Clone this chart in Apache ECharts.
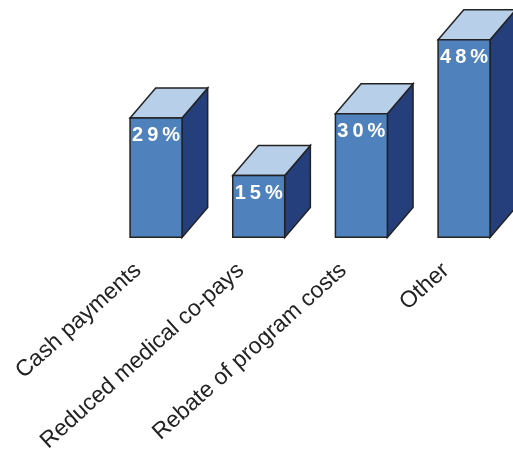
<!DOCTYPE html>
<html>
<head>
<meta charset="utf-8">
<script src="https://cdn.jsdelivr.net/npm/echarts@6/dist/echarts.min.js"></script>
<style>
html,body{margin:0;padding:0;background:#fff;}
#c{width:513px;height:455px;}
</style>
</head>
<body>
<div id="c"></div>
<script>
const categories = ['Cash payments', 'Reduced medical co-pays', 'Rebate of program costs', 'Other'];
const values = [29, 15, 30, 48];
const valueLabels = ['29%', '15%', '30%', '48%'];

const chart = echarts.init(document.getElementById('c'), null, {renderer: 'canvas'});

const FRONT = '#4f81bd', TOP = '#b7cfe8', SIDE = '#243f7c', EDGE = '#222222';

function spaced(s) { return s.split('').join('\u2009'); }

function renderItem(params, api) {
  const x = api.value(0), v = api.value(1);
  const base = api.coord([x, 0]);
  const top = api.coord([x, v]);
  const bw = api.size([1, 0])[0];
  const w = bw * 0.506;
  const cx = base[0] + 18;
  const l = cx - w / 2, r = cx + w / 2;
  const dx = bw * 0.25, dy = -30;
  const yb = base[1], yt = top[1];
  const st = {stroke: EDGE, lineWidth: 1.5, lineJoin: 'miter'};
  return {
    type: 'group',
    children: [
      {type: 'polygon', shape: {points: [[r, yt], [r + dx, yt + dy], [r + dx, yb + dy], [r, yb]]},
        style: Object.assign({fill: SIDE}, st)},
      {type: 'polygon', shape: {points: [[l, yt], [l + dx, yt + dy], [r + dx, yt + dy], [r, yt]]},
        style: Object.assign({fill: TOP}, st)},
      {type: 'rect', shape: {x: l, y: yt, width: w, height: yb - yt},
        style: Object.assign({fill: FRONT}, st)},
      {type: 'text', x: cx, y: yt + 18,
        style: {text: spaced(valueLabels[params.dataIndex]), fill: '#fff', align: 'center', verticalAlign: 'middle',
          font: 'bold 20px "Liberation Sans", Arial, sans-serif'}}
    ]
  };
}

chart.setOption({
  animation: false,
  grid: {left: 86.7, right: 15.6, top: 31.5, bottom: 217.5, containLabel: false},
  xAxis: {
    type: 'category', data: categories,
    axisLine: {show: false}, axisTick: {show: false}, splitLine: {show: false},
    axisLabel: {rotate: 42, margin: 30, fontSize: 23, color: '#222', fontFamily: '"Liberation Sans", Arial, sans-serif', interval: 0}
  },
  yAxis: {type: 'value', min: 0, max: 50, show: false},
  series: [{
    type: 'custom',
    renderItem: renderItem,
    data: values.map((v, i) => [i, v]),
    clip: false
  }]
});
</script>
</body>
</html>
